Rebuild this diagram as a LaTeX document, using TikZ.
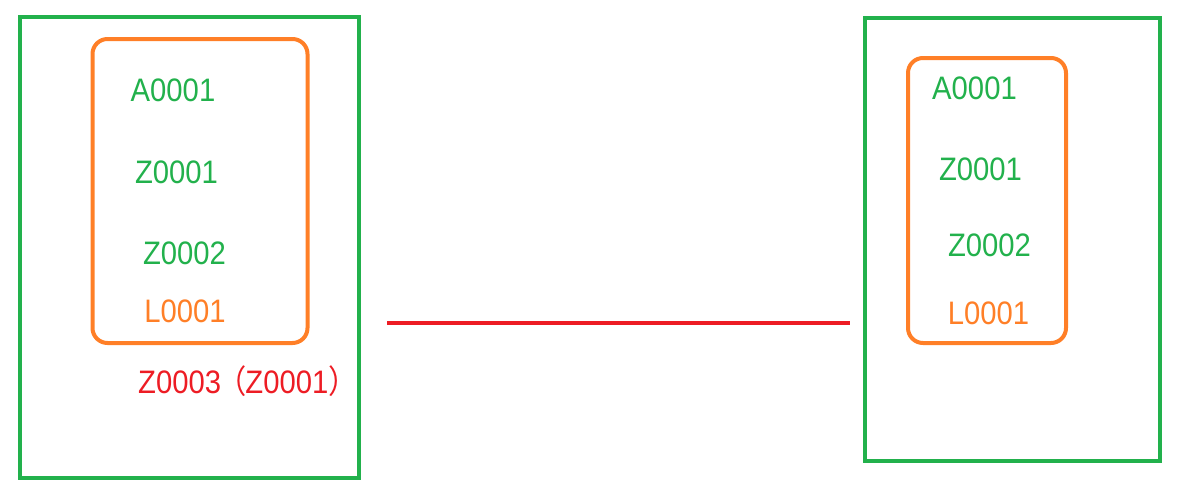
\documentclass[tikz,border=0pt]{standalone}
\usepackage{fontspec}
\setmainfont{Liberation Sans}[FakeStretch=0.9]
\newfontfamily\cjkfont{Noto Sans CJK SC}[FakeStretch=0.9]
\definecolor{pgreen}{HTML}{22B14C}
\definecolor{porange}{HTML}{FF7F27}
\definecolor{pred}{HTML}{ED1C24}
\begin{document}
\begin{tikzpicture}[x=1pt,y=-1pt,
  outerbox/.style={draw=pgreen,line width=4pt,inner sep=0pt},
  innerbox/.style={draw=porange,line width=4pt,rounded corners=15pt,inner sep=0pt},
  code/.style={inner sep=0pt,font=\fontsize{32.5}{36}\selectfont},
  gcode/.style={code,text=pgreen},
  ocode/.style={code,text=porange},
  rcode/.style={code,text=pred}]
\useasboundingbox (0,0) rectangle (1181,490);
% left group
\node[outerbox,minimum width=339pt,minimum height=461pt] (L) at (189.5,247.5) {};
\node[innerbox,minimum width=215pt,minimum height=304pt] (Li) at (200,191) {};
\node[gcode] (la) at (173,90) {A0001};
\node[gcode] (lz1) at (176.5,172) {Z0001};
\node[gcode] (lz2) at (184.5,253) {Z0002};
\node[ocode] (ll) at (185,311.5) {L0001};
\node[rcode,anchor=base west] (lz3) at (138,393.5) {Z0003\kern-4pt{\cjkfont （}\kern-1pt Z0001{\cjkfont ）}};
% right group
\node[outerbox,minimum width=295pt,minimum height=443pt] (R) at (1012,239) {};
\node[innerbox,minimum width=158pt,minimum height=285pt] (Ri) at (987,200.5) {};
\node[gcode] (ra) at (974.5,88) {A0001};
\node[gcode] (rz1) at (980.5,169) {Z0001};
\node[gcode] (rz2) at (989.5,245) {Z0002};
\node[ocode] (rl) at (988.5,313) {L0001};
% link
\coordinate (s) at (387,323);
\coordinate (e) at (850,323);
\draw[pred,line width=4pt] (s) -- (e);
\end{tikzpicture}
\end{document}
